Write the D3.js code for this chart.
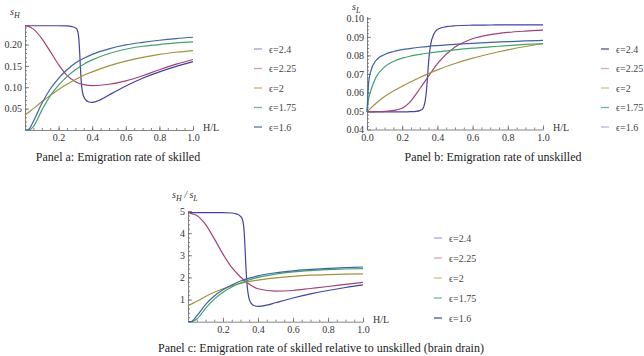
<!DOCTYPE html>
<html>
<head>
<meta charset="utf-8">
<script src="https://cdn.jsdelivr.net/npm/d3@7"></script>
<style>
  body { margin: 0; background: #fff; }
  text { font-family: "Liberation Serif", "DejaVu Serif", serif; }
</style>
</head>
<body>
<script>
'use strict';

// H/L grids (a finer one for the curves with the sharp jump)
var hlStep = [0, 0.1, 0.2, 0.25, 0.28, 0.3, 0.31, 0.315, 0.32, 0.325, 0.33, 0.335, 0.34, 0.345, 0.35, 0.36, 0.38, 0.4, 0.45, 0.5, 0.6, 0.7, 0.8, 0.9, 1.0];
var hlSmooth = [0, 0.01, 0.02, 0.05, 0.1, 0.15, 0.2, 0.25, 0.3, 0.35, 0.4, 0.5, 0.6, 0.7, 0.8, 0.9, 1.0];

var epsLabels = ['\u03f5=2.4', '\u03f5=2.25', '\u03f5=2', '\u03f5=1.75', '\u03f5=1.6'];

// panel a: s_H
var sH_24  = [0.244, 0.244, 0.244, 0.2435, 0.242, 0.239, 0.235, 0.229, 0.215, 0.185, 0.145, 0.112, 0.094, 0.084, 0.078, 0.071, 0.0655, 0.0645, 0.071, 0.082, 0.103, 0.121, 0.136, 0.149, 0.160];
var sH_225 = [0.244, 0.2435, 0.2425, 0.236, 0.214, 0.184, 0.153, 0.128, 0.113, 0.106, 0.104, 0.107, 0.115, 0.127, 0.141, 0.154, 0.165];
var sH_2   = [0.035, 0.038, 0.041, 0.05, 0.066, 0.081, 0.095, 0.107, 0.118, 0.128, 0.136, 0.15, 0.161, 0.17, 0.177, 0.182, 0.186];
var sH_175 = [0, 0, 0, 0.008, 0.046, 0.08, 0.105, 0.125, 0.141, 0.154, 0.164, 0.179, 0.189, 0.196, 0.2, 0.204, 0.206];
var sH_16  = [0, 0, 0.001, 0.02, 0.062, 0.096, 0.121, 0.141, 0.157, 0.168, 0.177, 0.19, 0.199, 0.205, 0.21, 0.214, 0.217];

// panel b: s_L
var sL_24  = [0.0495, 0.0495, 0.0495, 0.0496, 0.0498, 0.0502, 0.0506, 0.051, 0.0517, 0.053, 0.0552, 0.0585, 0.0635, 0.07, 0.0765, 0.085, 0.0915, 0.094, 0.0955, 0.096, 0.0963, 0.0964, 0.0965, 0.0965, 0.0965];
var sL_225 = [0.0495, 0.0495, 0.0495, 0.0496, 0.0498, 0.0503, 0.0515, 0.0555, 0.062, 0.0688, 0.0755, 0.0845, 0.089, 0.0912, 0.0924, 0.0931, 0.0936];
var sL_2   = [0.0495, 0.0505, 0.0514, 0.054, 0.0578, 0.0608, 0.0634, 0.0658, 0.0681, 0.0702, 0.0722, 0.0756, 0.0785, 0.0809, 0.083, 0.0848, 0.0863];
var sL_175 = [0.0495, 0.057, 0.0605, 0.068, 0.0738, 0.0767, 0.0785, 0.0797, 0.0806, 0.0813, 0.0819, 0.083, 0.0839, 0.0846, 0.0853, 0.0859, 0.0864];
var sL_16  = [0.0495, 0.066, 0.071, 0.0772, 0.0805, 0.0821, 0.0831, 0.0838, 0.0844, 0.0849, 0.0853, 0.086, 0.0865, 0.087, 0.0874, 0.0878, 0.0881];

// panel c: s_H / s_L
var ratio_24  = [4.93, 4.93, 4.93, 4.91, 4.86, 4.76, 4.64, 4.49, 4.16, 3.49, 2.63, 1.91, 1.48, 1.2, 1.02, 0.84, 0.72, 0.69, 0.745, 0.855, 1.07, 1.255, 1.41, 1.545, 1.66];
var ratio_225 = [4.93, 4.91, 4.88, 4.8, 4.4, 3.75, 3.05, 2.45, 2.02, 1.69, 1.49, 1.38, 1.41, 1.5, 1.59, 1.69, 1.78];
var ratio_2   = [0.72, 0.76, 0.8, 0.92, 1.14, 1.33, 1.49, 1.62, 1.73, 1.81, 1.88, 1.98, 2.05, 2.1, 2.13, 2.15, 2.16];
var ratio_175 = [0, 0, 0, 0.12, 0.6, 1.02, 1.33, 1.57, 1.75, 1.89, 2.0, 2.15, 2.25, 2.31, 2.35, 2.38, 2.4];
var ratio_16  = [0, 0, 0.01, 0.26, 0.77, 1.16, 1.44, 1.66, 1.84, 1.97, 2.07, 2.21, 2.3, 2.36, 2.41, 2.44, 2.47];

// tick labels
var xTicksNoZero = [0.2, 0.4, 0.6, 0.8, 1.0];
var xTicksZero = [0, 0.2, 0.4, 0.6, 0.8, 1.0];
var yTicksA = [0.05, 0.10, 0.15, 0.20];
var yTicksB = [0.04, 0.05, 0.06, 0.07, 0.08, 0.09, 0.10];
var yTicksC = [1, 2, 3, 4, 5];

var colors = ['#4242a3', '#a34276', '#a3913f', '#42a36b', '#4263a3'];
var legendColors = {
  a: ['#9d9dd2', '#d29db8', '#c8b46a', '#6ab88c', '#5a76b2'],
  b: ['#52528f', '#d9a6c0', '#d2c38a', '#6abb8a', '#a9b8da'],
  c: ['#a5a5d6', '#d8a2bd', '#cfc08a', '#72ba8e', '#3a5a98']
};

var width = 644, height = 356;
var svg = d3.select('body').append('svg')
  .attr('width', width)
  .attr('height', height);

function drawPanel(p) {
  var x = d3.scaleLinear().domain([0, 1]).range([p.x0, p.x1]);
  var y = d3.scaleLinear().domain(p.yDomain).range([p.yBottom, p.yTop]);
  var g = svg.append('g');

  // minor ticks
  g.append('g')
    .attr('transform', 'translate(0,' + p.yBottom + ')')
    .call(d3.axisBottom(x).tickValues(d3.range(0.05, 1.001, 0.05)).tickSize(-2).tickFormat(''))
    .call(function(s) { s.select('.domain').remove(); });
  g.append('g')
    .attr('transform', 'translate(' + p.x0 + ',0)')
    .call(d3.axisLeft(y).tickValues(p.yMinor).tickSize(-2).tickFormat(''))
    .call(function(s) { s.select('.domain').remove(); });

  // major ticks + axis lines
  g.append('g')
    .attr('transform', 'translate(0,' + p.yBottom + ')')
    .call(d3.axisBottom(x).tickValues(p.xTicks).tickSize(-4).tickSizeOuter(0).tickPadding(4).tickFormat(d3.format('.1f')));
  g.append('g')
    .attr('transform', 'translate(' + p.x0 + ',0)')
    .call(d3.axisLeft(y).tickValues(p.yTicks).tickSize(-4).tickSizeOuter(0).tickPadding(3).tickFormat(p.yFmt));
  g.selectAll('.domain, .tick line').attr('stroke', '#666').attr('stroke-width', 0.8);
  g.selectAll('.tick text').attr('font-size', 10).attr('fill', '#333');

  // curves
  var line = d3.line()
    .x(function(d) { return x(d[0]); })
    .y(function(d) { return y(d[1]); })
    .curve(d3.curveMonotoneX);
  p.series.forEach(function(s, i) {
    var pts = s.xs.map(function(v, j) { return [v, s.ys[j]]; });
    g.append('path')
      .datum(pts)
      .attr('d', line)
      .attr('fill', 'none')
      .attr('stroke', colors[i])
      .attr('stroke-width', 1.2);
  });

  // axis names
  g.append('text')
    .attr('x', p.x1 + 10).attr('y', p.yBottom + 1)
    .attr('font-size', 10).attr('fill', '#333')
    .text('H/L');
  var yl = g.append('text')
    .attr('x', p.yLabel[0]).attr('y', p.yLabel[1])
    .attr('font-size', 10).attr('fill', '#333').attr('font-style', 'italic');
  p.yLabelParts.forEach(function(part) {
    yl.append('tspan')
      .attr('font-size', part.sub ? 8 : 10)
      .attr('dy', part.sub ? 2.5 : (part.up ? -2.5 : 0))
      .text(part.t);
  });

  // legend
  var lg = g.append('g');
  epsLabels.forEach(function(lab, i) {
    var ly = p.legend.y + i * p.legend.dy;
    lg.append('line')
      .attr('x1', p.legend.x).attr('x2', p.legend.x + 8)
      .attr('y1', ly).attr('y2', ly)
      .attr('stroke', p.legend.colors[i]).attr('stroke-width', 1.3);
    lg.append('text')
      .attr('x', p.legend.x + 15).attr('y', ly + 3.5)
      .attr('font-size', 10).attr('fill', '#444')
      .text(lab);
  });

  // caption
  g.append('text')
    .attr('x', p.caption[0]).attr('y', p.caption[1])
    .attr('text-anchor', 'middle')
    .attr('font-size', 12).attr('fill', '#222')
    .text(p.caption[2]);
}

drawPanel({
  x0: 25, x1: 193, yBottom: 130, yTop: 25.3, yDomain: [0, 0.245],
  xTicks: xTicksNoZero, yTicks: yTicksA, yMinor: d3.range(0.01, 0.241, 0.01),
  yFmt: d3.format('.2f'),
  series: [
    { xs: hlStep, ys: sH_24 }, { xs: hlSmooth, ys: sH_225 }, { xs: hlSmooth, ys: sH_2 },
    { xs: hlSmooth, ys: sH_175 }, { xs: hlSmooth, ys: sH_16 }
  ],
  yLabel: [10, 15], yLabelParts: [{ t: 's' }, { t: 'H', sub: true }],
  legend: { x: 254, y: 49, dy: 19.5, colors: legendColors.a },
  caption: [118, 161, 'Panel a: Emigration rate of skilled']
});

drawPanel({
  x0: 367, x1: 543, yBottom: 129.5, yTop: 16.5, yDomain: [0.04, 0.101],
  xTicks: xTicksZero, yTicks: yTicksB, yMinor: d3.range(0.042, 0.1005, 0.002),
  yFmt: d3.format('.2f'),
  series: [
    { xs: hlStep, ys: sL_24 }, { xs: hlSmooth, ys: sL_225 }, { xs: hlSmooth, ys: sL_2 },
    { xs: hlSmooth, ys: sL_175 }, { xs: hlSmooth, ys: sL_16 }
  ],
  yLabel: [352, 10], yLabelParts: [{ t: 's' }, { t: 'L', sub: true }],
  legend: { x: 601, y: 49, dy: 19.5, colors: legendColors.b },
  caption: [493, 161, 'Panel b: Emigration rate of unskilled']
});

drawPanel({
  x0: 188, x1: 363, yBottom: 321.7, yTop: 211, yDomain: [0, 5],
  xTicks: xTicksNoZero, yTicks: yTicksC, yMinor: d3.range(0.2, 4.99, 0.2),
  yFmt: d3.format('d'),
  series: [
    { xs: hlStep, ys: ratio_24 }, { xs: hlSmooth, ys: ratio_225 }, { xs: hlSmooth, ys: ratio_2 },
    { xs: hlSmooth, ys: ratio_175 }, { xs: hlSmooth, ys: ratio_16 }
  ],
  yLabel: [172, 198], yLabelParts: [{ t: 's' }, { t: 'H', sub: true }, { t: ' / s', up: true }, { t: 'L', sub: true }],
  legend: { x: 434, y: 238, dy: 20, colors: legendColors.c },
  caption: [321, 352, 'Panel c: Emigration rate of skilled relative to unskilled (brain drain)']
});
</script>
</body>
</html>
